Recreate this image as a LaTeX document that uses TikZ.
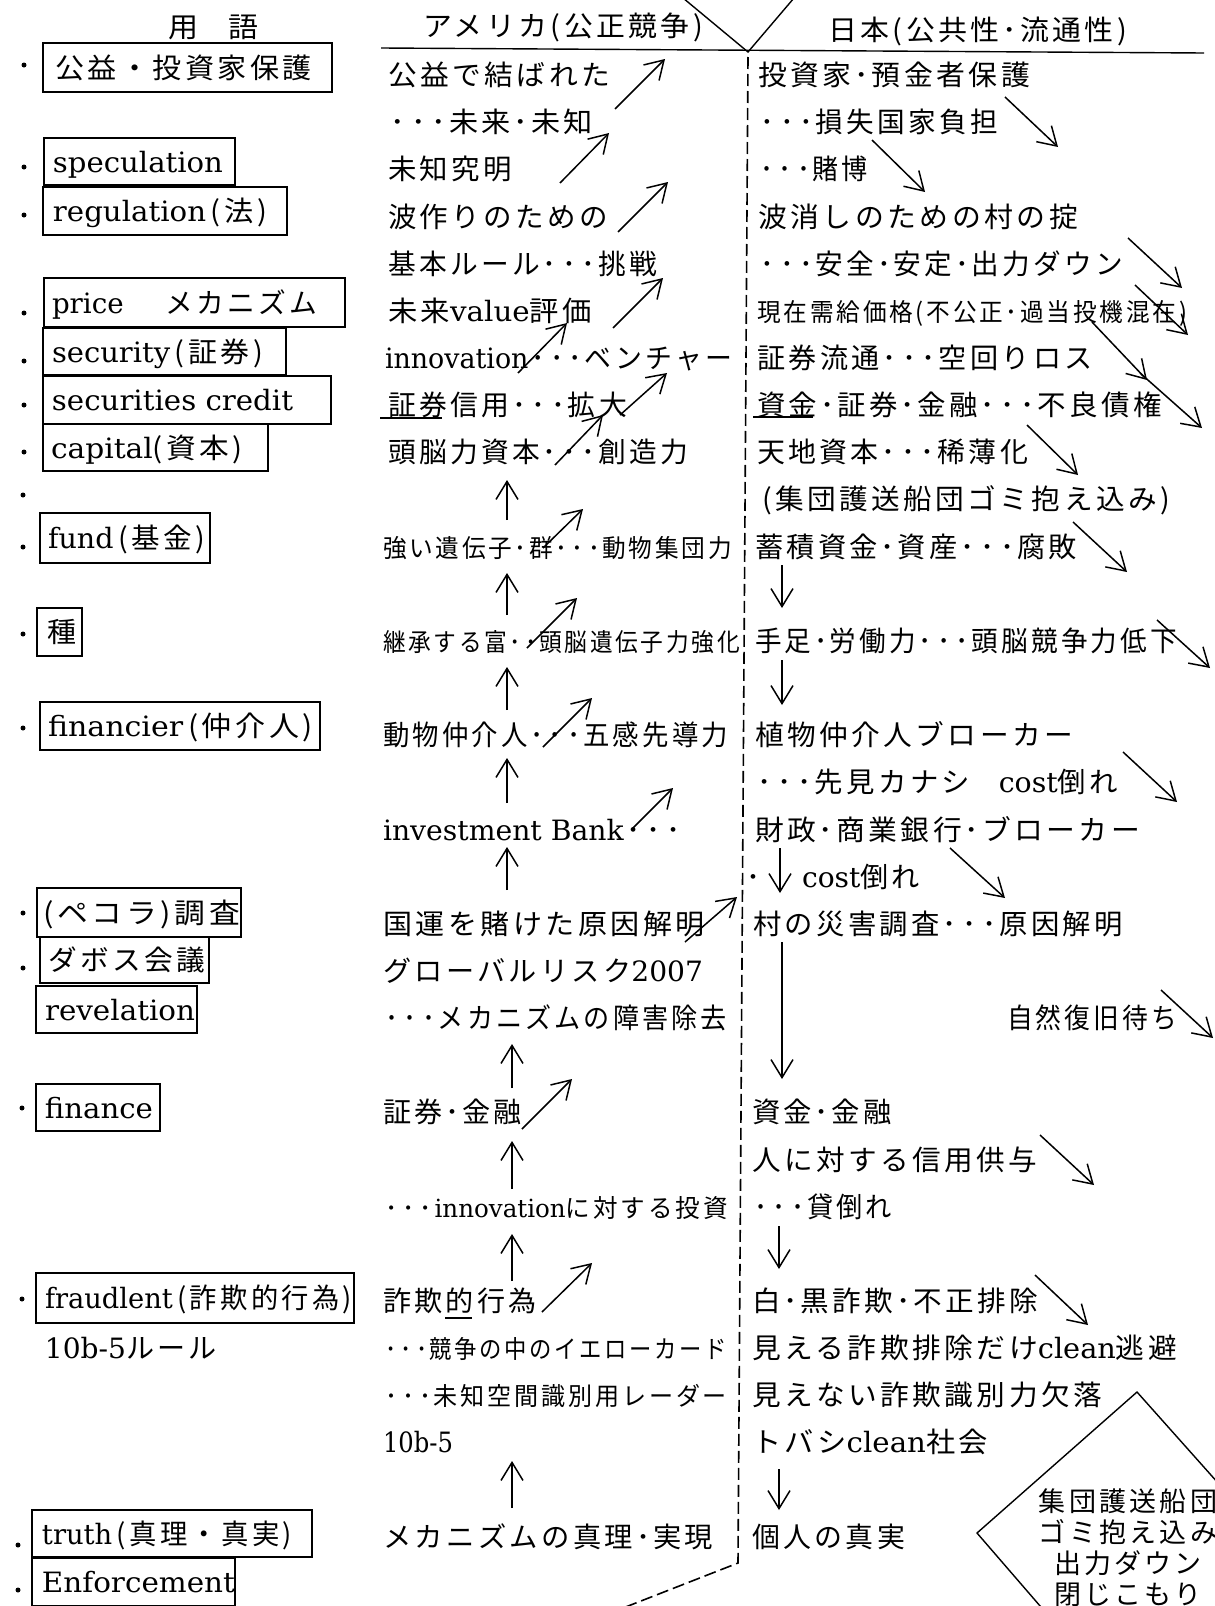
\documentclass[tikz,border=0pt]{standalone}
\usepackage{fontspec}
\usepackage{graphicx}
\setmainfont{Noto Sans CJK JP}[LetterSpace=12]
\newfontfamily\enfont{DejaVu Serif}
\usetikzlibrary{arrows.meta}
\newlength\pxu \setlength\pxu{0.5pt}
\newcommand\fitto[2]{\resizebox{#1\pxu}{\height}{#2}}
\newcommand\en[1]{{\enfont #1}}
\newcommand\dt{\hspace{0.1em}･\hspace{0.1em}}
\newcommand\R[1]{75+47.15*#1}
\newcommand\tx[6]{\node[#1] (#2) at (#3,#4) {\fitto{#5}{#6}};}
\newcommand\tbx[8]{\node[tbox,minimum height=#5*0.5pt] (#1) at (#2,#3) {\makebox[#4\pxu][l]{\hspace*{#6\pxu}\fitto{#7}{#8}}};}
\tikzset{
  txt/.style={anchor=west, inner sep=0pt, outer sep=0pt, text height=12.3pt, text depth=1.7pt, font=\fontsize{14pt}{16pt}\selectfont},
  stxt/.style={txt, font=\fontsize{12.5pt}{14pt}\selectfont},
  tbox/.style={draw, line width=0.7pt, anchor=north west, inner sep=0pt, outer sep=0pt, text height=12.3pt, text depth=1.7pt, font=\fontsize{14pt}{16pt}\selectfont},
  arr/.style={line width=0.75pt, -{Straight Barb[length=9pt,width=11pt]}},
  bul/.style={circle, fill, inner sep=0pt, minimum size=2.5pt},
  divider/.style={line width=0.8pt, dash pattern=on 6pt off 2.5pt},
  hrule/.style={line width=0.7pt},
  uline/.style={line width=0.9pt},
}
\begin{document}
\begin{tikzpicture}[x=0.5pt,y=-0.5pt]
\useasboundingbox (0,0) rectangle (1215,1606);
\clip (0,0) rectangle (1215,1606);
\fill[white] (0,0) rectangle (1215,1606);

% ---------- headers ----------
\tx{txt}{hterm}{168}{27}{90}{用\hspace{1em}語}
\tx{txt}{hus}{423}{26}{280}{アメリカ(公正競争)}
\tx{txt}{hjp}{828}{30}{299}{日本(公共性\dt 流通性)}
\draw[hrule] (381,48) -- (1204,53);
\coordinate (apex) at (748,52);
\coordinate (vl) at (683,-2);
\coordinate (vr) at (794,-2);
\draw[hrule] (vl) -- (apex) -- (vr);
\coordinate (dtop) at (748,57);
\coordinate (dbot) at (738,1563);
\coordinate (dend) at (600,1617);
\draw[divider] (dtop) -- (dbot) -- (dend);

% ---------- left column : terms ----------
\tbx{b1}{43}{43}{289}{49}{12}{257}{公益・投資家保護}
\tbx{b2}{44}{138}{191}{47}{9}{170}{\en{speculation}}
\tbx{b3}{43}{187}{244}{48}{10}{214}{\en{regulation\,}(法)}
\tbx{b4}{44}{278}{301}{49}{8}{265}{\en{price}\hspace{1.5em}メカニズム}
\tbx{b5}{43}{328}{243}{47}{9}{211}{\en{security\,}(証券)}
\tbx{b6}{43}{376}{288}{48}{9}{241}{\en{securities credit}}
\tbx{b7}{43}{424}{225}{47}{8}{192}{\en{capital}(資本)}
\tbx{b8}{40}{513}{170}{50}{8}{157}{\en{fund\,}(基金)}
\tbx{b9}{37}{608}{45}{48}{11}{29}{種}
\tbx{b10}{40}{702}{280}{48}{8}{265}{\en{financier\,}(仲介人)}
\tbx{b11}{37}{888}{204}{49}{6}{197}{(ペコラ)調査}
\tbx{b12}{40}{937}{169}{46}{8}{157}{ダボス会議}
\tbx{b13}{36}{986}{161}{47}{9}{150}{\en{revelation}}
\tbx{b14}{36}{1084}{124}{47}{9}{108}{\en{finance}}
\tbx{b15}{36}{1273}{318}{50}{9}{307}{\en{fraudlent\,}(詐欺的行為)}
\tx{txt}{rule10b}{45}{1348}{172}{\en{10b-5}ルール}
\tbx{b16}{32}{1510}{280}{47}{10}{250}{\en{truth\,}(真理・真実)}
\tbx{b17}{32}{1558}{203}{48}{10}{193}{\en{Enforcement}}

\foreach \i/\bx/\by in {1/24/65,2/24/167,3/24/215,4/24/313,5/24/361,6/24/405,7/24/452,8/23/495,9/23/547,10/23/634,11/23/728,12/23/913,13/23/968,14/22/1108,15/22/1299,16/18/1545,17/18/1590}
  \node[bul] (bul\i) at (\bx,\by) {};

% ---------- middle column : America ----------
\tx{txt}{m0}{388}{\R{0}}{222}{公益で結ばれた}
\tx{txt}{m1}{388}{\R{1}}{205}{\dt\dt\dt 未来\dt 未知}
\tx{txt}{m2}{388}{\R{2}}{124}{未知究明}
\tx{txt}{m3}{388}{\R{3}}{220}{波作りのための}
\tx{txt}{m4}{388}{\R{4}}{269}{基本ルール\dt\dt\dt 挑戦}
\tx{txt}{m5}{388}{\R{5}}{204}{未来\en{value}評価}
\tx{txt}{m6}{385}{\R{6}}{347}{\en{innovation}\dt\dt\dt ベンチャー}
\tx{txt}{m7}{388}{\R{7}}{239}{証券信用\dt\dt\dt 拡大}
\tx{txt}{m8}{388}{\R{8}}{300}{頭脳力資本\dt\dt\dt 創造力}
\tx{stxt}{m10}{383}{\R{10}}{349}{強い遺伝子\dt 群\dt\dt\dt 動物集団力}
\tx{stxt}{m12}{383}{\R{12}}{357}{継承する富\dt\dt 頭脳遺伝子力強化}
\tx{txt}{m14}{383}{\R{14}}{345}{動物仲介人\dt\dt\dt 五感先導力}
\tx{txt}{m16}{383}{\R{16}}{300}{\en{investment Bank}\dt\dt\dt}
\tx{txt}{m18}{383}{\R{18}}{322}{国運を賭けた原因解明}
\tx{txt}{m19}{383}{\R{19}}{320}{グローバルリスク\en{2007}}
\tx{txt}{m20}{383}{\R{20}}{344}{\dt\dt\dt メカニズムの障害除去}
\tx{txt}{m22}{383}{\R{22}}{139}{証券\dt 金融}
\tx{stxt}{m24}{383}{\R{24}}{345}{\dt\dt\dt\en{innovation}に対する投資}
\tx{txt}{m26}{383}{\R{26}}{154}{詐欺的行為}
\tx{stxt}{m27}{383}{\R{27}}{344}{\dt\dt\dt 競争の中のイエローカード}
\tx{stxt}{m28}{383}{\R{28}}{344}{\dt\dt\dt 未知空間識別用レーダー}
\tx{txt}{m29}{383}{\R{29}}{70}{\en{10b-5}}
\tx{txt}{m31}{383}{\R{31}}{330}{メカニズムの真理\dt 実現}

% ---------- right column : Japan ----------
\tx{txt}{r0}{758}{\R{0}}{272}{投資家\dt 預金者保護}
\tx{txt}{r1}{758}{\R{1}}{240}{\dt\dt\dt 損失国家負担}
\tx{txt}{r2}{758}{\R{2}}{110}{\dt\dt\dt 賭博}
\tx{txt}{r3}{758}{\R{3}}{320}{波消しのための村の掟}
\tx{txt}{r4}{758}{\R{4}}{365}{\dt\dt\dt 安全\dt 安定\dt 出力ダウン}
\tx{stxt}{r5}{757}{\R{5}}{430}{現在需給価格(不公正\dt 過当投機混在)}
\tx{txt}{r6}{757}{\R{6}}{336}{証券流通\dt\dt\dt 空回りロス}
\tx{txt}{r7}{757}{\R{7}}{405}{資金\dt 証券\dt 金融\dt\dt\dt 不良債権}
\tx{txt}{r8}{757}{\R{8}}{271}{天地資本\dt\dt\dt 稀薄化}
\tx{txt}{r9}{762}{\R{9}}{408}{(集団護送船団ゴミ抱え込み)}
\tx{txt}{r10}{755}{\R{10}}{322}{蓄積資金\dt 資産\dt\dt\dt 腐敗}
\tx{txt}{r12}{755}{\R{12}}{422}{手足\dt 労働力\dt\dt\dt 頭脳競争力低下}
\tx{txt}{r14}{755}{\R{14}}{318}{植物仲介人ブローカー}
\tx{txt}{r15}{755}{\R{15}}{363}{\dt\dt\dt 先見カナシ\hspace{1em}\en{cost}倒れ}
\tx{txt}{r16}{755}{\R{16}}{385}{財政\dt 商業銀行\dt ブローカー}
\tx{txt}{r17a}{746}{\R{17}}{14}{･}
\tx{txt}{r17b}{802}{\R{17}}{118}{\en{cost}倒れ}
\tx{txt}{r18}{753}{\R{18}}{370}{村の災害調査\dt\dt\dt 原因解明}
\tx{txt}{r20}{1007}{\R{20}}{170}{自然復旧待ち}
\tx{txt}{r22}{752}{\R{22}}{140}{資金\dt 金融}
\tx{txt}{r23}{752}{\R{23}}{285}{人に対する信用供与}
\tx{txt}{r24}{752}{\R{24}}{140}{\dt\dt\dt 貸倒れ}
\tx{txt}{r26}{752}{\R{26}}{286}{白\dt 黒詐欺\dt 不正排除}
\tx{txt}{r27}{752}{\R{27}}{425}{見える詐欺排除だけ\en{clean}逃避}
\tx{txt}{r28}{752}{\R{28}}{350}{見えない詐欺識別力欠落}
\tx{txt}{r29}{752}{\R{29}}{236}{トバシ\en{clean}社会}
\tx{txt}{r31}{752}{\R{31}}{153}{個人の真実}

% ---------- diamond ----------
\coordinate (dmt) at (1137,1392);
\coordinate (dml) at (977,1533);
\draw[hrule] (1227,1493) -- (dmt) -- (dml) -- (1047,1614);
\node[align=center, inner sep=0pt, font=\fontsize{13.5pt}{15.5pt}\selectfont] (dmtext) at (1128,1548)
  {集団護送船団\\ゴミ抱え込み\\出力ダウン\\閉じこもり};

% ---------- underlines ----------
\draw[uline] (380,418) -- (442,418);
\draw[uline] (753,417) -- (813,417);
\draw[uline] (445,1318) -- (472,1318);

% ---------- middle diagonal arrows ----------
\draw[arr] (615,109) -- (665,59);
\draw[arr] (560,183) -- (609,133);
\draw[arr] (618,232) -- (668,182);
\draw[arr] (613,328) -- (663,278);
\draw[arr] (518,373) -- (567,323);
\draw[arr] (620,415) -- (667,373);
\draw[arr] (555,465) -- (603,415);
\draw[arr] (543,548) -- (583,509);
\draw[arr] (527,648) -- (577,598);
\draw[arr] (543,747) -- (592,698);
\draw[arr] (633,828) -- (673,788);
\draw[arr] (685,942) -- (737,897);
\draw[arr] (522,1129) -- (572,1079);
\draw[arr] (542,1312) -- (592,1263);
% middle up arrows
\draw[arr] (507,520) -- (507,480);
\draw[arr] (507,615) -- (507,573);
\draw[arr] (507,710) -- (507,667);
\draw[arr] (507,803) -- (507,758);
\draw[arr] (507,890) -- (507,847);
\draw[arr] (512,1088) -- (512,1044);
\draw[arr] (512,1189) -- (512,1141);
\draw[arr] (512,1281) -- (512,1234);
\draw[arr] (512,1508) -- (512,1461);

% ---------- right diagonal arrows ----------
\draw[arr] (1005,97) -- (1058,147);
\draw[arr] (872,140) -- (925,192);
\draw[arr] (1128,238) -- (1182,288);
\draw[arr] (1135,285) -- (1188,335);
\draw[arr] (1092,322) -- (1147,380);
\draw[arr] (1140,373) -- (1202,428);
\draw[arr] (1027,425) -- (1078,475);
\draw[arr] (1073,522) -- (1127,572);
\draw[arr] (1157,620) -- (1210,668);
\draw[arr] (1123,752) -- (1177,802);
\draw[arr] (950,848) -- (1005,898);
\draw[arr] (1161,990) -- (1213,1038);
\draw[arr] (1040,1135) -- (1094,1185);
\draw[arr] (1035,1275) -- (1088,1325);
% right down arrows
\draw[arr] (782,565) -- (782,608);
\draw[arr] (782,660) -- (782,705);
\draw[arr] (780,848) -- (780,893);
\draw[arr] (782,942) -- (782,1079);
\draw[arr] (779,1226) -- (779,1269);
\draw[arr] (779,1469) -- (779,1510);
\end{tikzpicture}
\end{document}
